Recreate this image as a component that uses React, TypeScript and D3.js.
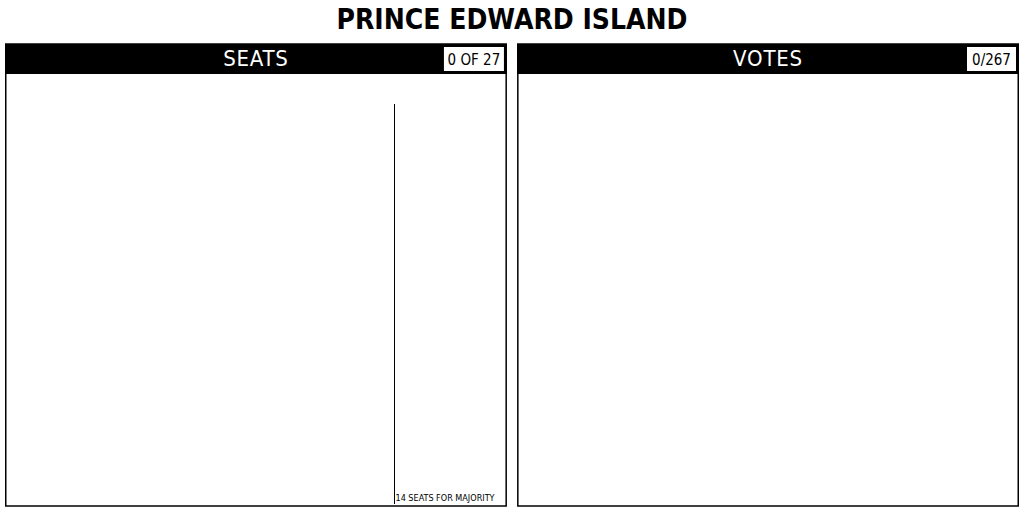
import React from "react";
import * as d3 from "d3";

const TITLE = "PRINCE EDWARD ISLAND";
const PANELS = ["SEATS", "VOTES"];
const TOTAL_SEATS = 27;
const MAJORITY = 14;
const SEATS_REPORTED = 0;
const POLLS_REPORTED = 0;
const TOTAL_POLLS = 267;

const W = 1024;
const H = 512;
const FONT = "'DejaVu Sans Condensed', 'DejaVu Sans', sans-serif";

export default function App() {
  const panelX = d3.scaleBand<string>().domain(PANELS).range([5, 1019]).paddingInner(0.0198);
  const pw = panelX.bandwidth();
  const top = 44;
  const bottom = 506;
  const headerH = 30;
  const seatX = d3.scaleLinear().domain([0, TOTAL_SEATS]).range([273, 506]);
  const mx = Math.round(seatX(MAJORITY)) + 0.5;
  const badges = [`${SEATS_REPORTED} OF ${TOTAL_SEATS}`, `${POLLS_REPORTED}/${TOTAL_POLLS}`];
  const badgeW = [60, 49];
  return (
    <svg width={W} height={H} style={{ position: "absolute", left: 0, top: 0, background: "#fff" }} fontFamily={FONT}>
      <text x={W / 2} y={29} textAnchor="middle" fontSize={28} fontWeight="bold" fill="#000">{TITLE}</text>
      {PANELS.map((p, i) => {
        const x0 = panelX(p)!;
        return (
          <g key={p}>
            <rect x={x0 + 0.75} y={top} width={pw - 1.5} height={bottom - top} fill="#fff" stroke="#000" strokeWidth={1.5} />
            <rect x={x0} y={top} width={pw} height={headerH} fill="#000" />
            <text x={x0 + pw / 2} y={top + 22} textAnchor="middle" fontSize={22} letterSpacing={0.8} fill="#fff">{p}</text>
            <rect x={x0 + pw - 3 - badgeW[i]} y={top + 3} width={badgeW[i]} height={24} fill="#fff" />
            <text x={x0 + pw - 3 - badgeW[i] / 2} y={top + 21} textAnchor="middle" fontSize={15} fill="#000">{badges[i]}</text>
          </g>
        );
      })}
      <line x1={mx} x2={mx} y1={104} y2={504} stroke="#000" strokeWidth={1} />
      <text x={mx + 1} y={501} fontSize={9} fill="#000">{`${MAJORITY} SEATS FOR MAJORITY`}</text>
    </svg>
  );
}
